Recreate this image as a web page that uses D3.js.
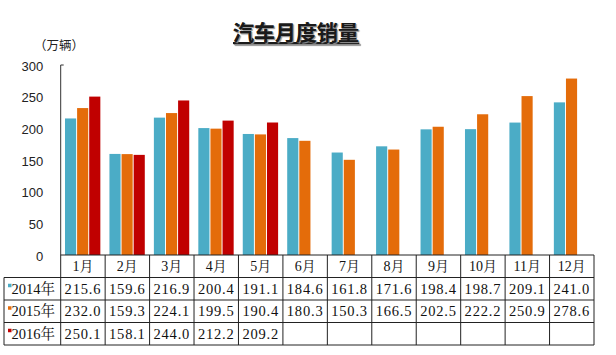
<!DOCTYPE html>
<html><head><meta charset="utf-8">
<script src="https://cdn.jsdelivr.net/npm/d3@7"></script>
<style>
html,body{margin:0;padding:0;background:#fff;}
svg{display:block;}
</style></head>
<body>
<svg id="chart" width="616" height="355"></svg>
<script>
const title = "汽车月度销量";
const unitLabel = "（万辆）";
const months = ["1月","2月","3月","4月","5月","6月","7月","8月","9月","10月","11月","12月"];
const seriesNames = ["2014年","2015年","2016年"];
const seriesColors = ["#4bacc6","#e46c0a","#c00000"];
const values2014 = [215.6,159.6,216.9,200.4,191.1,184.6,161.8,171.6,198.4,198.7,209.1,241.0];
const values2015 = [232.0,159.3,224.1,199.5,190.4,180.3,150.3,166.5,202.5,222.2,250.9,278.6];
const values2016 = [250.1,158.1,244.0,212.2,209.2];
const yTicks = [0,50,100,150,200,250,300];

const series = [values2014, values2015, values2016];

const svg = d3.select("#chart");
const W = 616, H = 355;
const plotLeft = 60.7, plotRight = 594, plotTop = 65, plotBottom = 255;
const tableLeft = 4;
const rowH = 22.5;

const x = d3.scaleBand().domain(months).range([plotLeft, plotRight]).padding(0);
const xs = d3.scaleBand().domain(d3.range(3)).range([4.3, x.bandwidth() - 4.8]).paddingInner(0.08);
const y = d3.scaleLinear().domain([0, 300]).range([plotBottom, plotTop]);

// title
const t = svg.append("text")
  .attr("x", 296).attr("y", 40)
  .attr("text-anchor", "middle")
  .attr("font-family", "'Noto Sans CJK SC', sans-serif")
  .attr("font-weight", "bold").attr("font-size", 21)
  .attr("fill", "#1a1a1a")
  .style("text-decoration", "underline")
  .style("text-shadow", "1px 1px 1px #999")
  .text(title);

// unit
svg.append("text").attr("x", 59).attr("y", 50)
  .attr("text-anchor", "middle")
  .attr("font-family", "'Noto Sans CJK SC', sans-serif")
  .attr("font-size", 12.5).attr("fill", "#222")
  .text(unitLabel);

// bars
const g = svg.append("g");
series.forEach((vals, si) => {
  g.selectAll(null).data(vals.map((v, i) => ({v, m: months[i]})))
    .enter().append("rect")
    .attr("x", d => x(d.m) + xs(si))
    .attr("width", xs.bandwidth())
    .attr("y", d => y(d.v))
    .attr("height", d => y(0) - y(d.v))
    .attr("fill", seriesColors[si]);
});

// y axis
const yAxis = d3.axisLeft(y).tickValues(yTicks).tickSize(0).tickPadding(0);
const ya = svg.append("g").attr("transform", `translate(${plotLeft},0)`).call(yAxis);
ya.select(".domain").remove();
ya.selectAll("text")
  .attr("x", -17.5).attr("dy", "0.4em")
  .attr("font-family", "'Liberation Sans', Arial, sans-serif")
  .attr("font-size", 13).attr("fill", "#222");
svg.append("path")
  .attr("d", `M${plotLeft + 3},${plotTop}H${plotLeft}V${plotBottom}`)
  .attr("fill", "none").attr("stroke", "#333").attr("stroke-width", 1);

// table
const tg = svg.append("g");
const nRows = 4; // month header + 3 series
const tableBottom = plotBottom + rowH * nRows;
const lineColor = "#222";
// horizontal lines
for (let r = 0; r <= nRows; r++) {
  const yy = plotBottom + rowH * r;
  tg.append("line")
    .attr("x1", r === 0 ? plotLeft : tableLeft).attr("x2", plotRight)
    .attr("y1", yy).attr("y2", yy)
    .attr("stroke", lineColor).attr("stroke-width", 1);
}
// vertical lines
tg.append("line").attr("x1", tableLeft).attr("x2", tableLeft)
  .attr("y1", plotBottom + rowH).attr("y2", tableBottom)
  .attr("stroke", lineColor);
months.forEach(m => {
  tg.append("line").attr("x1", x(m)).attr("x2", x(m))
    .attr("y1", plotBottom).attr("y2", tableBottom).attr("stroke", lineColor);
});
tg.append("line").attr("x1", plotRight).attr("x2", plotRight)
  .attr("y1", plotBottom).attr("y2", tableBottom).attr("stroke", lineColor);

const cellFont = "'Liberation Serif', 'Noto Serif CJK SC', 'Noto Sans CJK SC', serif";
// month header
tg.selectAll(null).data(months).enter().append("text")
  .attr("x", d => x(d) + x.bandwidth() / 2)
  .attr("y", plotBottom + rowH / 2)
  .attr("dy", "0.36em")
  .attr("text-anchor", "middle")
  .attr("font-family", cellFont).attr("font-size", 14).attr("fill", "#111")
  .text(d => d);

series.forEach((vals, si) => {
  const cy = plotBottom + rowH * (si + 1) + rowH / 2;
  tg.append("rect").attr("x", 8).attr("y", cy - 5).attr("width", 3.5).attr("height", 3.5)
    .attr("fill", seriesColors[si]);
  tg.append("text").attr("x", 11.5).attr("y", cy).attr("dy", "0.36em")
    .attr("font-family", cellFont).attr("font-size", 14.5).attr("fill", "#111")
    .text(seriesNames[si]);
  tg.selectAll(null).data(vals.map((v, i) => ({v, m: months[i]}))).enter().append("text")
    .attr("x", d => x(d.m) + x.bandwidth() / 2)
    .attr("y", cy).attr("dy", "0.36em")
    .attr("text-anchor", "middle")
    .attr("font-family", cellFont).attr("font-size", 14.5).attr("fill", "#111")
    .attr("letter-spacing", 0.8)
    .text(d => d.v.toFixed(1));
});
</script>
</body></html>
